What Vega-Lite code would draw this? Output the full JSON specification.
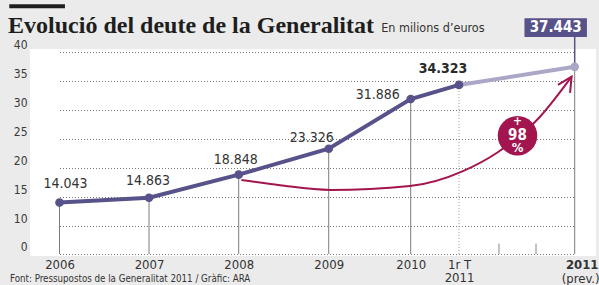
{
  "$schema": "https://vega.github.io/schema/vega-lite/v6.json",
  "width": 566,
  "height": 207,
  "autosize": "none",
  "padding": {"left": 30, "top": 49, "right": 3, "bottom": 29},
  "background": "#ebebeb",
  "config": {
    "view": {"fill": "white", "stroke": null},
    "axis": {"titleOpacity": 0},
    "text": {"font": "DejaVu Sans Condensed", "color": "#333333"}
  },
  "datasets": {
    "debt": [
      {"x": 2006, "v": 14.043},
      {"x": 2007, "v": 14.863},
      {"x": 2008, "v": 18.848},
      {"x": 2009, "v": 23.326},
      {"x": 2010, "v": 31.886},
      {"x": 2011.25, "v": 34.323},
      {"x": 2012, "v": 37.443}
    ],
    "arrow": [
      {"x": 2008.03, "v": 17.93, "i": 1},
      {"x": 2008.46, "v": 17.02, "i": 2},
      {"x": 2009.02, "v": 16.22, "i": 3},
      {"x": 2009.99, "v": 16.9, "i": 4},
      {"x": 2011.275, "v": 19.47, "i": 5},
      {"x": 2011.49, "v": 22.67, "i": 6},
      {"x": 2011.776, "v": 28.84, "i": 7},
      {"x": 2011.98, "v": 35.74, "i": 8}
    ],
    "head": [
      {"x": 2011.892, "v": 34.32, "i": 1},
      {"x": 2011.98, "v": 35.74, "i": 2},
      {"x": 2011.97, "v": 32.95, "i": 3}
    ],
    "qticks": [{"x": 2011.5}, {"x": 2011.75}]
  },
  "data": {"name": "debt"},
  "layer": [
    {
      "transform": [{"filter": "datum.x != 2011.25"}],
      "mark": {"type": "rule", "color": "#7d7d7d", "strokeWidth": 1},
      "encoding": {
        "x": {
          "field": "x", "type": "quantitative",
          "scale": {
            "domain": [2006, 2007, 2008, 2009, 2010, 2011.25, 2011.5, 2011.75, 2012],
            "range": [29.5, 119, 208.7, 298.7, 380.7, 429, 469, 506, 544.7],
            "nice": false, "zero": false
          },
          "axis": {
            "values": [2006, 2007, 2008, 2009, 2010, 2011.25, 2012],
            "tickCount": 20,
            "labelExpr": "datum.value == 2011.25 ? ['1r T', '2011'] : (datum.value == 2012 ? '2011' : '' + datum.value)",
            "grid": false, "domain": false, "ticks": false,
            "labelPadding": 2, "labelFontSize": 13, "labelBaseline": "top",
            "labelLineHeight": 13.5, "labelFont": "DejaVu Sans Condensed",
            "labelColor": "#333333", "labelFlush": false, "labelOverlap": false, "labelBound": false,
            "labelFontWeight": {"condition": {"test": "datum.value == 2012", "value": "bold"}, "value": "normal"},
            "labelOffset": {"condition": {"test": "datum.value == 2012", "value": 7}, "value": 0}
          }
        },
        "y": {
          "field": "v", "type": "quantitative",
          "scale": {"domain": [0, 10, 40], "range": [205, 177, 3], "nice": false, "zero": false},
          "axis": {
            "values": [0, 10, 15, 20, 25, 30, 35, 40],
            "tickCount": 20,
            "domain": false, "ticks": false, "labelPadding": 3,
            "labelFontSize": 12, "labelBaseline": "bottom", "labelOffset": -1,
            "labelOverlap": false, "labelFlush": false, "labelBound": false,
            "labelFont": "DejaVu Sans Condensed", "labelColor": "#3a3a3a",
            "grid": true, "gridDash": [1, 2], "gridColor": "#7a7a7a", "gridWidth": 1
          }
        },
        "y2": {"datum": 0}
      }
    },
    {
      "transform": [{"filter": "datum.x == 2011.25"}],
      "mark": {"type": "rule", "color": "#999999", "strokeWidth": 1, "strokeDash": [1, 2]},
      "encoding": {
        "x": {"field": "x", "type": "quantitative"},
        "y": {"field": "v", "type": "quantitative"},
        "y2": {"datum": 0}
      }
    },
    {
      "data": {"name": "qticks"},
      "mark": {"type": "rule", "color": "#888888", "strokeWidth": 1},
      "encoding": {
        "x": {"field": "x", "type": "quantitative"},
        "y": {"datum": 0},
        "y2": {"datum": 3.7}
      }
    },
    {
      "data": {"values": [{}]},
      "mark": {"type": "rule", "color": "#57528a", "strokeWidth": 1.5},
      "encoding": {
        "x": {"datum": 2012},
        "y": {"datum": 37.443},
        "y2": {"datum": 42.6}
      }
    },
    {
      "data": {"values": [{}]},
      "mark": {"type": "rect", "color": "#57528a"},
      "encoding": {
        "x": {"datum": 2011.672},
        "x2": {"datum": 2012.079},
        "y": {"datum": 42.57},
        "y2": {"datum": 45.82}
      }
    },
    {
      "transform": [{"filter": "datum.x <= 2011.25"}],
      "mark": {"type": "line", "color": "#57528a", "strokeWidth": 4},
      "encoding": {
        "x": {"field": "x", "type": "quantitative"},
        "y": {"field": "v", "type": "quantitative"}
      }
    },
    {
      "transform": [{"filter": "datum.x >= 2011.25"}],
      "mark": {"type": "line", "color": "#aaa8c6", "strokeWidth": 4},
      "encoding": {
        "x": {"field": "x", "type": "quantitative"},
        "y": {"field": "v", "type": "quantitative"}
      }
    },
    {
      "mark": {"type": "point", "filled": true, "size": 75, "opacity": 1},
      "encoding": {
        "x": {"field": "x", "type": "quantitative"},
        "y": {"field": "v", "type": "quantitative"},
        "color": {"condition": {"test": "datum.x == 2012", "value": "#a9a7c6"}, "value": "#57528a"}
      }
    },
    {
      "data": {"name": "arrow"},
      "mark": {"type": "line", "color": "#a3154f", "strokeWidth": 2, "interpolate": "monotone"},
      "encoding": {
        "x": {"field": "x", "type": "quantitative"},
        "y": {"field": "v", "type": "quantitative"},
        "order": {"field": "i"}
      }
    },
    {
      "data": {"name": "head"},
      "mark": {"type": "line", "color": "#a3154f", "strokeWidth": 2},
      "encoding": {
        "x": {"field": "x", "type": "quantitative"},
        "y": {"field": "v", "type": "quantitative"},
        "order": {"field": "i"}
      }
    },
    {
      "data": {"values": [{}]},
      "mark": {"type": "point", "filled": true, "shape": "circle", "size": 1560, "color": "#a3154f", "opacity": 1},
      "encoding": {
        "x": {"datum": 2011.625},
        "y": {"datum": 25.58}
      }
    },
    {
      "data": {"values": [{}]},
      "mark": {"type": "text", "text": "+", "fontSize": 12, "fontWeight": "bold", "color": "white", "align": "center", "baseline": "middle", "dy": -15},
      "encoding": {
        "x": {"datum": 2011.625},
        "y": {"datum": 25.58}
      }
    },
    {
      "data": {"values": [{}]},
      "mark": {"type": "text", "text": "98", "fontSize": 15, "fontWeight": "bold", "color": "white", "align": "center", "baseline": "middle", "dy": -1},
      "encoding": {
        "x": {"datum": 2011.625},
        "y": {"datum": 25.58}
      }
    },
    {
      "data": {"values": [{}]},
      "mark": {"type": "text", "text": "%", "fontSize": 13, "fontWeight": "bold", "color": "white", "align": "center", "baseline": "middle", "dy": 12},
      "encoding": {
        "x": {"datum": 2011.625},
        "y": {"datum": 25.58}
      }
    },
    {
      "transform": [{"filter": "datum.x == 2006"}],
      "mark": {"type": "text", "fontSize": 14, "align": "center", "baseline": "middle", "dx": 6, "dy": -19},
      "encoding": {
        "x": {"field": "x", "type": "quantitative"},
        "y": {"field": "v", "type": "quantitative"},
        "text": {"field": "v", "type": "quantitative", "format": ".3f"}
      }
    },
    {
      "transform": [{"filter": "datum.x == 2007"}],
      "mark": {"type": "text", "fontSize": 14, "align": "center", "baseline": "middle", "dx": -1, "dy": -17},
      "encoding": {
        "x": {"field": "x", "type": "quantitative"},
        "y": {"field": "v", "type": "quantitative"},
        "text": {"field": "v", "type": "quantitative", "format": ".3f"}
      }
    },
    {
      "transform": [{"filter": "datum.x == 2008"}],
      "mark": {"type": "text", "fontSize": 14, "align": "center", "baseline": "middle", "dx": -3, "dy": -15},
      "encoding": {
        "x": {"field": "x", "type": "quantitative"},
        "y": {"field": "v", "type": "quantitative"},
        "text": {"field": "v", "type": "quantitative", "format": ".3f"}
      }
    },
    {
      "transform": [{"filter": "datum.x == 2009"}],
      "mark": {"type": "text", "fontSize": 14, "align": "right", "baseline": "middle", "dx": 5, "dy": -11},
      "encoding": {
        "x": {"field": "x", "type": "quantitative"},
        "y": {"field": "v", "type": "quantitative"},
        "text": {"field": "v", "type": "quantitative", "format": ".3f"}
      }
    },
    {
      "transform": [{"filter": "datum.x == 2010"}],
      "mark": {"type": "text", "fontSize": 14, "align": "right", "baseline": "middle", "dx": -11, "dy": -4},
      "encoding": {
        "x": {"field": "x", "type": "quantitative"},
        "y": {"field": "v", "type": "quantitative"},
        "text": {"field": "v", "type": "quantitative", "format": ".3f"}
      }
    },
    {
      "transform": [{"filter": "datum.x == 2011.25"}],
      "mark": {"type": "text", "fontSize": 14, "fontWeight": "bold", "align": "center", "baseline": "middle", "dx": -16, "dy": -16, "color": "#2a2a2a"},
      "encoding": {
        "x": {"field": "x", "type": "quantitative"},
        "y": {"field": "v", "type": "quantitative"},
        "text": {"field": "v", "type": "quantitative", "format": ".3f"}
      }
    },
    {
      "transform": [{"filter": "datum.x == 2012"}],
      "mark": {"type": "text", "fontSize": 15, "fontWeight": "bold", "align": "center", "baseline": "middle", "dx": -19, "dy": -39.5, "color": "white"},
      "encoding": {
        "x": {"field": "x", "type": "quantitative"},
        "y": {"field": "v", "type": "quantitative"},
        "text": {"field": "v", "type": "quantitative", "format": ".3f"}
      }
    },
    {
      "data": {"values": [{}]},
      "mark": {"type": "text", "text": "Evolució del deute de la Generalitat", "font": "Liberation Serif", "fontSize": 24, "fontWeight": "bold", "align": "left", "baseline": "alphabetic", "color": "#1e1e1e"},
      "encoding": {
        "x": {"datum": 2005.425},
        "y": {"datum": 43.34}
      }
    },
    {
      "data": {"values": [{}]},
      "mark": {"type": "text", "text": "En milions d’euros", "fontSize": 12.5, "align": "left", "baseline": "alphabetic", "color": "#333333"},
      "encoding": {
        "x": {"datum": 2009.64},
        "y": {"datum": 43.42}
      }
    },
    {
      "data": {"values": [{}]},
      "mark": {"type": "text", "text": "(prev.)", "fontSize": 13, "align": "center", "baseline": "middle", "dx": 6, "dy": 25, "color": "#333333"},
      "encoding": {
        "x": {"datum": 2012},
        "y": {"datum": 0}
      }
    },
    {
      "data": {"values": [{}]},
      "mark": {"type": "text", "text": "Font: Pressupostos de la Generalitat 2011 / Gràfic: ARA", "fontSize": 9.7, "align": "left", "baseline": "middle", "dy": 25, "color": "#333333"},
      "encoding": {
        "x": {"datum": 2005.447},
        "y": {"datum": 0}
      }
    },
    {
      "data": {"values": [{}]},
      "mark": {"type": "rule", "color": "#1e1e1e", "strokeWidth": 4},
      "encoding": {
        "x": {"datum": 2005.439},
        "x2": {"datum": 2006.061},
        "y": {"datum": 47.88}
      }
    }
  ]
}
